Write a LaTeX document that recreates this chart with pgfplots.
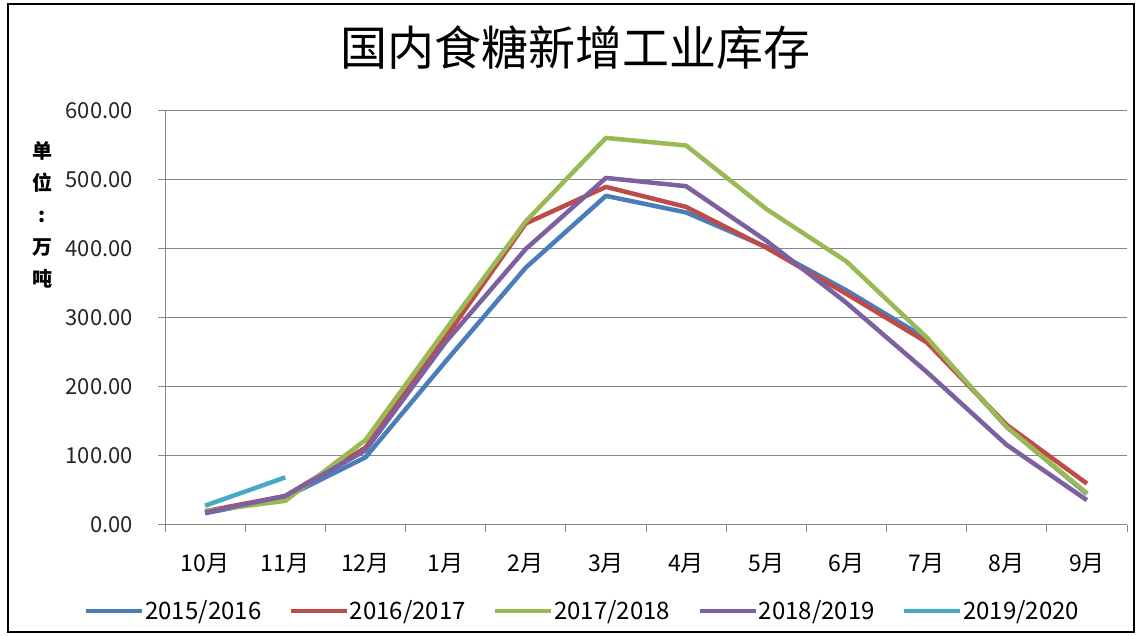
\documentclass[border=0pt]{standalone}
\usepackage{fontspec}
\setmainfont{Noto Sans CJK SC}
\usepackage{pgfplots}
\pgfplotsset{compat=1.18}
\definecolor{c1}{HTML}{4A7EBB}
\definecolor{c2}{HTML}{BE4B48}
\definecolor{c3}{HTML}{98B954}
\definecolor{c4}{HTML}{7D60A0}
\definecolor{c5}{HTML}{46AAC5}
\definecolor{gridc}{HTML}{868686}
\begin{document}
\begin{tikzpicture}[x=1pt,y=1pt]
\useasboundingbox (0,0) rectangle (1142,636);
\draw[line width=1.5pt] (8,4) rectangle (1134,632);
\node[font=\fontsize{47}{50}\selectfont] at (575,588) {国内食糖新增工业库存};
\node[font=\fontsize{20}{32}\selectfont\bfseries, align=center] at (42,421) {单\\位\\:\\万\\吨};
\begin{axis}[at={(165pt,111pt)}, anchor=south west, scale only axis,
  width=962pt, height=414pt,
  xmin=-0.5, xmax=11.5, ymin=0, ymax=600,
  axis lines*=left,
  axis line style={gridc, line width=1pt},
  xtick={0,...,11},
  xticklabels={10月,11月,12月,1月,2月,3月,4月,5月,6月,7月,8月,9月},
  minor xtick={-0.5,0.5,...,11.5},
  major x tick style={draw=none},
  minor x tick style={gridc, line width=1pt},
  y tick style={gridc, line width=1pt},
  tick align=outside,
  major tick length=7pt, minor tick length=7pt,
  ytick={0,100,...,600},
  ymajorgrids=true,
  grid style={gridc, line width=1pt},
  /pgf/number format/assume math mode=true,
  yticklabel={\pgfmathprintnumber[fixed,fixed zerofill,precision=2]{\tick}},
  yticklabel style={anchor=east, inner sep=0pt, xshift=-25pt, font=\fontsize{22}{26}\selectfont, text=black!85},
  xticklabel style={anchor=center, yshift=-31pt, font=\fontsize{23}{26}\selectfont},
  every axis plot/.append style={line width=4.5pt, line join=round},
  legend columns=5,
  legend style={at={(0.4335,-0.2077)}, anchor=center, draw=none, fill=none,
    font=\fontsize{24}{28}\selectfont,
    nodes={inner sep=1pt},
    /tikz/every even column/.append style={column sep=26pt}},
  legend image code/.code={\draw[#1,line width=4.5pt] (0pt,0pt) -- (56pt,0pt);},
]
\addplot[c1] coordinates {(0,17) (1,40) (2,98) (3,237) (4,373) (5,477) (6,453) (7,403) (8,340) (9,270) (10,142) (11,45)};
\addlegendentry{2015/2016}
\addplot[c2] coordinates {(0,20) (1,42) (2,112) (3,272) (4,437) (5,490) (6,461) (7,402) (8,335) (9,265) (10,145) (11,60)};
\addlegendentry{2016/2017}
\addplot[c3] coordinates {(0,20) (1,35) (2,123) (3,283) (4,440) (5,561) (6,550) (7,458) (8,382) (9,272) (10,142) (11,46)};
\addlegendentry{2017/2018}
\addplot[c4] coordinates {(0,18) (1,42) (2,108) (3,265) (4,400) (5,503) (6,491) (7,412) (8,322) (9,222) (10,116) (11,36)};
\addlegendentry{2018/2019}
\addplot[c5] coordinates {(0,28) (1,69)};
\addlegendentry{2019/2020}
\end{axis}
\end{tikzpicture}
\end{document}
